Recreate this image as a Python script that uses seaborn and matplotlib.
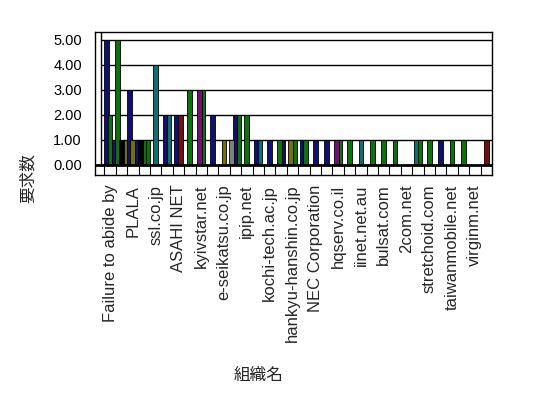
import numpy as np
import pandas as pd
import seaborn as sns
import matplotlib
matplotlib.use("Agg")
import matplotlib.pyplot as plt

# organisations shown on the axis (every second category is labelled)
ORG_LABELS = ["Failure to abide by", "PLALA", "ssl.co.jp", "ASAHI NET", "kyivstar.net",
              "e-seikatsu.co.jp", "ipip.net", "kochi-tech.ac.jp", "hankyu-hanshin.co.jp",
              "NEC Corporation", "hqserv.co.il", "iinet.net.au", "bulsat.com", "2com.net",
              "stretchoid.com", "taiwanmobile.net", "virginm.net"]
N_ORGS = 34

# one entry per bar: category index, series, request count
BAR_ORG = [0, 0, 0, 1, 1, 1, 2, 2, 2, 3, 3, 3, 4, 5, 5, 6, 6, 7, 8, 8, 9, 10,
           11, 11, 11, 12, 13, 13, 14, 15, 15, 16, 16, 17, 17, 18, 19, 20, 20,
           21, 22, 23, 24, 25, 27, 27, 28, 29, 30, 31, 33]
BAR_SERIES = ["navy", "green", "navy2", "green", "black", "olive", "navy", "olive", "navy2",
              "black", "green", "green2", "teal", "navy", "teal", "navy", "maroon", "green",
              "purple", "green", "navy", "olive", "gray", "navy", "green", "green",
              "navy", "teal", "navy", "green", "navy", "olive", "green", "navy", "green",
              "navy", "navy", "purple", "green", "green", "teal", "green", "green", "green",
              "teal", "green", "green", "navy", "green", "green", "maroon"]
BAR_VALUE = [5, 2, 1, 5, 1, 1, 3, 1, 1, 1, 1, 1, 4, 2, 2, 2, 2, 3, 3, 3, 2, 1,
             1, 2, 2, 2, 1, 1, 1, 1, 1, 1, 1, 1, 1, 1, 1, 1, 1,
             1, 1, 1, 1, 1, 1, 1, 1, 1, 1, 1, 1]

SERIES_COLORS = {"navy": "#000080", "navy2": "#000080", "green": "#008000", "green2": "#008000",
                 "olive": "#808000", "teal": "#008080", "maroon": "#800000",
                 "purple": "#800080", "gray": "#808080", "black": "#000000"}

df = pd.DataFrame({"org": BAR_ORG, "series": BAR_SERIES, "value": BAR_VALUE})
# place bars of one organisation side by side around its centre
step = 0.32
df["slot"] = df.groupby("org").cumcount()
df["n"] = df.groupby("org")["org"].transform("size")
df["pos"] = df["org"] + (df["slot"] - (df["n"] - 1) / 2) * step

sns.set_style("white")
plt.rcParams["font.family"] = ["Liberation Sans", "DejaVu Sans"]
cjk = ["Noto Sans CJK JP", "DejaVu Sans"]

fig = plt.figure(figsize=(5.48, 3.98), dpi=100)
ax = fig.add_axes([95 / 548, (398 - 175) / 398, 397 / 548, 143 / 398])

sns.barplot(data=df, x="pos", y="value", hue="series", palette=SERIES_COLORS,
            hue_order=list(SERIES_COLORS), native_scale=True, dodge=False,
            width=1.3, errorbar=None, legend=False, edgecolor="black",
            linewidth=0.6, ax=ax)

ax.set_xlim(-1.32, 33.5)
ax.set_ylim(-0.4, 5.32)

# back wall, side wall and floor strip
yt = [0, 1, 2, 3, 4, 5]
ax.hlines(yt[1:], -0.79, 33.5, color="black", lw=1, zorder=0)
ax.vlines(-0.79, 0, 5.32, color="black", lw=1, zorder=0)
ax.axhline(0, color="black", lw=2, zorder=3)
ax.vlines(np.arange(N_ORGS + 1) - 0.5, -0.4, 0, color="black", lw=0.8)

ax.set_yticks(yt)
ax.set_yticklabels([f"{v:.2f}" for v in yt], fontsize=10.5)
ax.tick_params(axis="y", direction="in", length=4.3, width=1, pad=9.4, colors="black")

ax.set_xticks(np.arange(0, N_ORGS, 2))
ax.set_xticklabels(ORG_LABELS, rotation=90, fontsize=12, va="top")
ax.tick_params(axis="x", length=0, pad=7)

for s in ax.spines.values():
    s.set_visible(True)
    s.set_color("black")
    s.set_linewidth(1)

ax.set_xlabel("")
ax.set_ylabel("")
fig.text(259 / 548, 1 - 375 / 398, "組織名", family=cjk, fontsize=12,
         ha="center", va="center")
fig.text(28 / 548, 1 - 178 / 398, "要求数", family=cjk, fontsize=12,
         ha="center", va="center", rotation=90)

fig.savefig("out.png", dpi=100)
